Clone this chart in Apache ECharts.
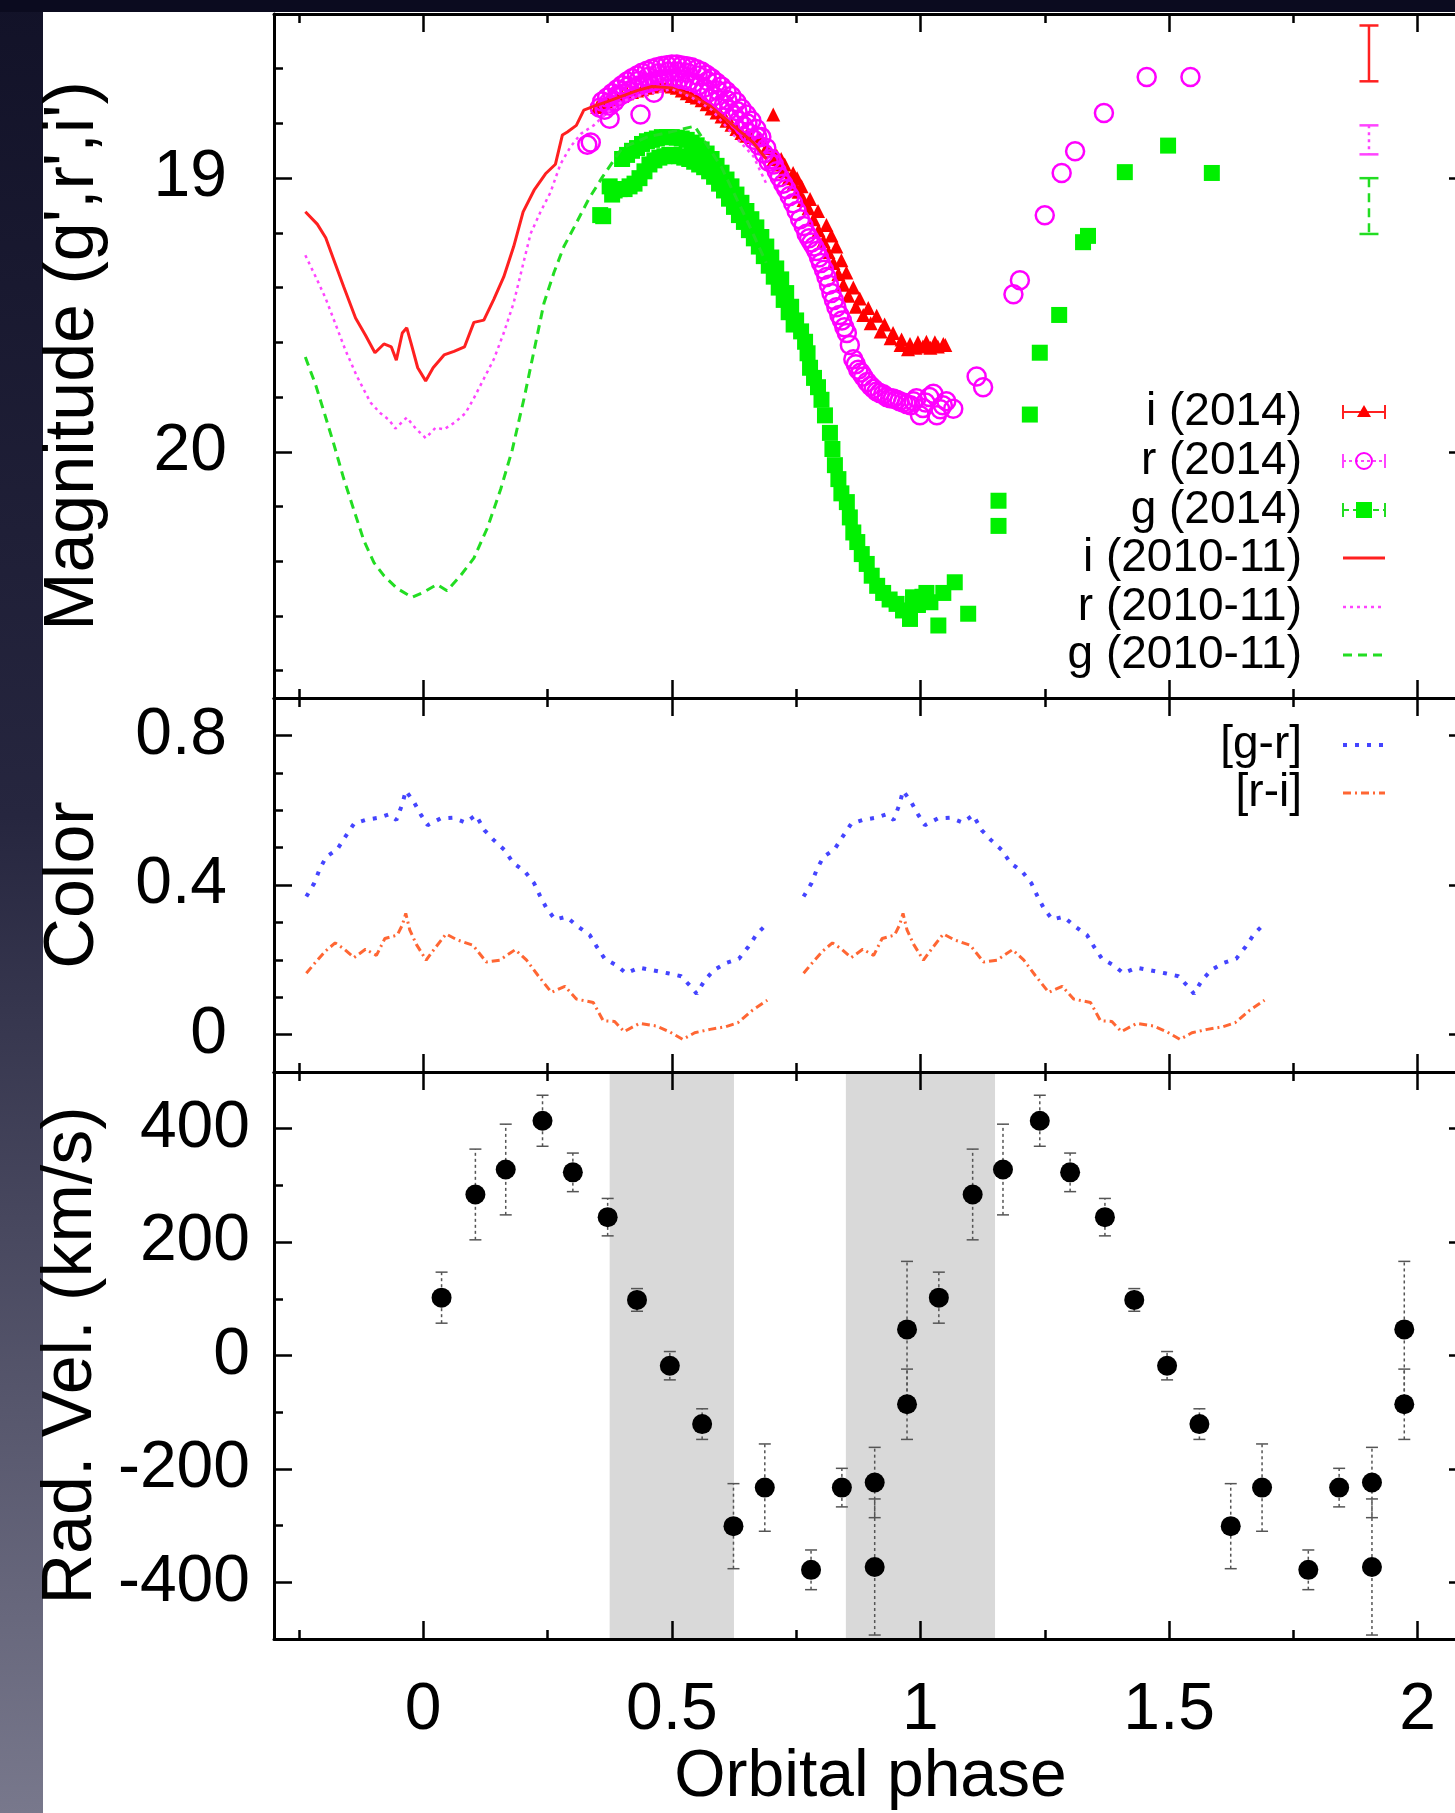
<!DOCTYPE html>
<html><head><meta charset="utf-8">
<script src="https://cdn.jsdelivr.net/npm/echarts@6/dist/echarts.min.js"></script>
<style>html,body{margin:0;padding:0;background:#fff}#c{width:1455px;height:1813px}</style>
</head><body><div id="c"></div><script>
// ---------------- tick values ----------------
const phaseMajorTicks = [0, 0.5, 1, 1.5, 2];
const phaseMinorTicks = [-0.25, 0.25, 0.75, 1.25, 1.75];
const magMajorTicks = [19, 20];
const magMinorTicks = [18.6, 18.8, 19.2, 19.4, 19.6, 19.8, 20.2, 20.4, 20.6, 20.8];
const colorMajorTicks = [0, 0.4, 0.8];
const colorMinorTicks = [0.1, 0.2, 0.3, 0.5, 0.6, 0.7];
const rvMajorTicks = [-400, -200, 0, 200, 400];
const rvMinorTicks = [-300, -100, 100, 300];

// ---------------- labels ----------------
const magLegendLabels = ['i (2014)', 'r (2014)', 'g (2014)', 'i (2010-11)', 'r (2010-11)', 'g (2010-11)'];
const colorLegendLabels = ['[g-r]', '[r-i]'];

// ---------------- magnitudes, 2014 [phase, mag] ----------------
const i2014 = [[0.35,18.74],[0.36,18.73],[0.37,18.72],[0.38,18.715],[0.39,18.71],[0.40,18.70],[0.41,18.69],[0.42,18.685],[0.43,18.68],[0.44,18.675],[0.45,18.67],[0.46,18.665],[0.47,18.66],[0.48,18.66],[0.49,18.66],[0.50,18.665],[0.51,18.67],[0.52,18.68],[0.53,18.69],[0.54,18.70],[0.55,18.705],[0.56,18.715],[0.57,18.73],[0.58,18.745],[0.59,18.76],[0.60,18.775],[0.61,18.79],[0.62,18.805],[0.63,18.82],[0.64,18.835],[0.65,18.845],[0.66,18.85],[0.677,18.854],[0.69,18.89],[0.704,18.767],[0.711,18.918],[0.72,18.93],[0.727,18.95],[0.744,18.981],[0.752,19.0],[0.761,19.03],[0.778,19.076],[0.794,19.12],[0.811,19.171],[0.821,19.21],[0.831,19.250],[0.841,19.30],[0.851,19.345],[0.865,19.40],[0.878,19.440],[0.895,19.475],[0.912,19.503],[0.928,19.535],[0.945,19.566],[0.962,19.59],[0.979,19.606],[0.995,19.60],[1.012,19.598],[1.029,19.60],[1.046,19.606],
  [0.705,18.93],[0.715,18.95],[0.725,18.975],[0.735,19.0],[0.745,19.02],[0.755,19.05],[0.765,19.08],[0.775,19.11],[0.785,19.15],[0.795,19.19],[0.805,19.23],[0.815,19.27],[0.825,19.31],[0.835,19.35],[0.845,19.39],[0.855,19.43],[0.87,19.47],[0.885,19.50],[0.90,19.53],[0.92,19.56],[0.94,19.585],[0.96,19.61],[0.975,19.625],[0.99,19.62],[1.005,19.615],[1.02,19.62],[1.035,19.615],[1.05,19.61]];
const r2014 = [[0.330,18.878],[0.337,18.870],[0.355,18.743],[0.375,18.783],[0.437,18.767],[0.464,18.688],
  [0.36,18.72],[0.37,18.705],[0.38,18.69],[0.39,18.675],[0.40,18.66],[0.41,18.647],[0.42,18.635],[0.43,18.625],[0.44,18.615],[0.45,18.607],[0.46,18.60],[0.47,18.595],[0.48,18.59],[0.49,18.587],[0.50,18.585],[0.51,18.585],[0.52,18.588],[0.53,18.591],[0.54,18.595],[0.55,18.602],[0.56,18.61],[0.57,18.622],[0.58,18.635],[0.59,18.65],[0.60,18.665],[0.61,18.682],[0.62,18.70],[0.63,18.722],[0.64,18.745],[0.65,18.767],[0.66,18.79],[0.67,18.82],[0.68,18.85],[0.69,18.89],[0.70,18.93],
  [0.365,18.75],[0.375,18.735],[0.385,18.72],[0.395,18.70],[0.405,18.69],[0.415,18.68],[0.425,18.67],[0.435,18.66],[0.445,18.655],[0.455,18.65],[0.465,18.645],[0.475,18.64],[0.485,18.638],[0.495,18.636],[0.505,18.636],[0.515,18.638],[0.525,18.64],[0.535,18.645],[0.545,18.65],[0.555,18.66],[0.565,18.67],[0.575,18.685],[0.585,18.70],[0.595,18.715],[0.605,18.73],[0.615,18.75],[0.625,18.77],[0.635,18.79],[0.645,18.81],[0.655,18.835],[0.665,18.86],[0.675,18.88],[0.685,18.91],[0.695,18.94],
  [0.372,18.725],[0.392,18.695],[0.412,18.665],[0.432,18.645],[0.452,18.63],[0.472,18.617],[0.492,18.61],[0.512,18.61],[0.532,18.615],[0.552,18.625],[0.572,18.645],[0.592,18.68],[0.612,18.715],[0.632,18.755],[0.652,18.80],[0.672,18.85],
  [0.705,18.95],[0.711,18.975],[0.717,18.997],[0.724,19.02],[0.73,19.04],[0.737,19.065],[0.744,19.092],[0.751,19.12],[0.758,19.15],[0.765,19.175],[0.771,19.203],[0.776,19.22],[0.781,19.235],[0.786,19.25],[0.791,19.266],[0.796,19.29],[0.80,19.31],[0.806,19.335],[0.811,19.361],[0.816,19.39],[0.821,19.42],[0.826,19.445],[0.831,19.472],[0.837,19.50],[0.842,19.52],[0.847,19.545],[0.852,19.566],[0.858,19.61],[0.865,19.662],[0.87,19.68],[0.875,19.70],[0.88,19.71],[0.885,19.725],[0.893,19.745],[0.90,19.76],[0.906,19.77],[0.912,19.780],[0.918,19.785],[0.925,19.79],[0.932,19.80],[0.939,19.804],[0.945,19.805],[0.952,19.81],[0.958,19.815],[0.965,19.820],[0.972,19.825],[0.98,19.83],[0.986,19.815],[0.992,19.804],[0.999,19.867],[1.005,19.84],[1.01,19.82],[1.018,19.80],[1.026,19.788],[1.033,19.867],[1.04,19.845],[1.045,19.83],[1.052,19.815],
  [1.066,19.843],[1.113,19.725],[1.126,19.764],[1.187,19.424],[1.200,19.373],[1.250,19.136],[1.284,18.981],[1.311,18.902],[1.369,18.762],[1.455,18.630],[1.543,18.630]];
const g2014 = [[0.356,19.135],[0.362,19.139],[0.38,19.06],
  [0.40,18.93],[0.41,18.915],[0.42,18.90],[0.43,18.89],[0.44,18.875],[0.45,18.865],[0.46,18.86],[0.47,18.855],[0.48,18.85],[0.49,18.85],[0.50,18.85],[0.51,18.852],[0.52,18.855],[0.53,18.86],[0.54,18.87],[0.55,18.88],[0.56,18.895],[0.57,18.91],[0.58,18.93],[0.59,18.955],[0.60,18.98],[0.61,19.005],[0.62,19.03],[0.63,19.06],[0.64,19.09],[0.65,19.12],[0.66,19.15],[0.67,19.18],[0.68,19.215],[0.69,19.25],[0.70,19.29],[0.71,19.33],[0.72,19.37],[0.73,19.42],[0.74,19.47],[0.75,19.52],[0.76,19.56],
  [0.375,19.03],[0.385,19.045],[0.395,19.04],[0.405,19.04],[0.415,19.03],[0.425,19.02],[0.435,19.0],[0.445,18.975],[0.455,18.95],[0.465,18.935],[0.475,18.925],[0.485,18.92],[0.495,18.915],[0.505,18.915],[0.515,18.92],[0.525,18.925],[0.535,18.93],[0.545,18.94],[0.555,18.95],[0.565,18.96],[0.575,18.975],[0.585,18.995],[0.595,19.02],[0.605,19.045],[0.615,19.075],[0.625,19.105],[0.635,19.135],[0.645,19.16],[0.655,19.19],[0.665,19.22],[0.675,19.25],[0.685,19.285],[0.695,19.32],[0.705,19.36],[0.715,19.40],[0.725,19.445],[0.735,19.49],[0.745,19.535],
  [0.768,19.598],[0.773,19.64],[0.778,19.693],[0.786,19.73],[0.794,19.764],[0.801,19.81],[0.808,19.867],[0.818,19.931],[0.823,19.99],[0.828,20.049],[0.835,20.10],[0.841,20.152],[0.852,20.184],[0.858,20.24],[0.865,20.295],[0.873,20.33],[0.882,20.374],[0.892,20.41],[0.902,20.453],[0.913,20.49],[0.925,20.516],[0.938,20.54],[0.952,20.556],[0.965,20.58],[0.979,20.611],[0.985,20.532],[0.995,20.56],[1.004,20.53],[1.012,20.516],[1.02,20.55],[1.036,20.635],[1.046,20.516],[1.069,20.477],[1.096,20.592],
  [1.157,20.179],[1.157,20.271],[1.220,19.864],[1.240,19.638],[1.279,19.500],[1.327,19.234],[1.337,19.211],[1.411,18.978],[1.498,18.881],[1.586,18.981]];

// ---------------- magnitudes, 2010-11 light curves [phase, mag] ----------------
const i2010 = [[-0.237,19.123],[-0.213,19.168],[-0.196,19.218],[-0.180,19.297],[-0.160,19.396],[-0.136,19.511],[-0.116,19.574],[-0.097,19.638],[-0.079,19.606],[-0.064,19.617],[-0.054,19.665],[-0.042,19.566],[-0.033,19.547],[-0.024,19.606],[-0.011,19.693],[0.005,19.741],[0.020,19.693],[0.042,19.646],[0.062,19.633],[0.083,19.617],[0.102,19.527],[0.122,19.519],[0.142,19.443],[0.162,19.361],[0.182,19.250],[0.201,19.123],[0.223,19.044],[0.246,18.984],[0.266,18.949],[0.280,18.842],[0.290,18.831],[0.308,18.807],[0.323,18.751],[0.345,18.736],[0.37,18.72],[0.40,18.70],[0.43,18.68],[0.46,18.665],[0.50,18.67],[0.54,18.70],[0.577,18.736],[0.623,18.807],[0.664,18.870],[0.69,18.93]];
const r2010 = [[-0.237,19.282],[-0.216,19.361],[-0.196,19.440],[-0.176,19.535],[-0.156,19.630],[-0.133,19.725],[-0.106,19.820],[-0.086,19.859],[-0.069,19.883],[-0.056,19.915],[-0.033,19.875],[-0.015,19.915],[0.005,19.950],[0.025,19.912],[0.042,19.918],[0.065,19.891],[0.085,19.859],[0.102,19.804],[0.122,19.733],[0.142,19.662],[0.162,19.566],[0.182,19.456],[0.199,19.329],[0.216,19.203],[0.236,19.123],[0.256,19.052],[0.276,18.949],[0.296,18.886],[0.317,18.838],[0.343,18.807],[0.37,18.76],[0.40,18.72],[0.43,18.70],[0.46,18.69],[0.50,18.675],[0.54,18.705],[0.58,18.75],[0.623,18.84],[0.664,18.92],[0.69,19.02]];
const g2010 = [[-0.237,19.654],[-0.216,19.757],[-0.200,19.851],[-0.180,19.970],[-0.160,20.097],[-0.139,20.215],[-0.119,20.326],[-0.099,20.405],[-0.079,20.453],[-0.052,20.500],[-0.022,20.532],[0.001,20.513],[0.028,20.485],[0.048,20.508],[0.075,20.453],[0.102,20.389],[0.129,20.279],[0.156,20.136],[0.179,19.994],[0.203,19.804],[0.223,19.630],[0.243,19.456],[0.263,19.345],[0.283,19.250],[0.306,19.171],[0.333,19.076],[0.360,18.997],[0.40,18.89],[0.45,18.85],[0.50,18.83],[0.546,18.81],[0.60,18.96],[0.65,19.15],[0.69,19.31]];

// typical error bars (top right of magnitude panel) [phase, mag, halfError]
const typicalErrors = [[1.902,18.544,0.102],[1.902,18.86,0.053],[1.902,19.102,0.102]];

// ---------------- colours (one orbital cycle, plotted twice) [phase, colour] ----------------
const grColor = [[-0.235,0.369],[-0.219,0.405],[-0.208,0.443],[-0.195,0.475],[-0.173,0.495],[-0.158,0.526],[-0.139,0.564],[-0.116,0.574],[-0.089,0.580],[-0.069,0.589],[-0.054,0.574],[-0.042,0.616],[-0.035,0.652],[-0.019,0.623],[-0.005,0.589],[0.009,0.560],[0.035,0.578],[0.060,0.580],[0.085,0.567],[0.106,0.587],[0.123,0.547],[0.142,0.520],[0.164,0.493],[0.181,0.459],[0.204,0.437],[0.223,0.405],[0.235,0.371],[0.248,0.338],[0.265,0.308],[0.288,0.315],[0.312,0.288],[0.335,0.266],[0.350,0.233],[0.365,0.203],[0.389,0.185],[0.408,0.164],[0.435,0.179],[0.462,0.172],[0.492,0.164],[0.519,0.156],[0.539,0.127],[0.550,0.109],[0.566,0.145],[0.585,0.173],[0.610,0.192],[0.635,0.203],[0.654,0.235],[0.671,0.269],[0.689,0.293]];
const riColor = [[-0.235,0.164],[-0.216,0.194],[-0.196,0.224],[-0.177,0.245],[-0.158,0.228],[-0.139,0.206],[-0.116,0.228],[-0.094,0.212],[-0.077,0.257],[-0.052,0.266],[-0.042,0.293],[-0.035,0.324],[-0.027,0.280],[-0.014,0.242],[0.006,0.199],[0.023,0.230],[0.046,0.269],[0.069,0.253],[0.100,0.239],[0.127,0.194],[0.154,0.199],[0.185,0.227],[0.208,0.199],[0.231,0.158],[0.258,0.113],[0.285,0.129],[0.308,0.095],[0.342,0.086],[0.362,0.037],[0.385,0.035],[0.404,0.008],[0.435,0.030],[0.469,0.023],[0.496,0.007],[0.522,-0.013],[0.546,0.005],[0.577,0.014],[0.608,0.021],[0.633,0.032],[0.662,0.065],[0.692,0.092]];

// ---------------- radial velocities (one cycle, plotted twice) ----------------
const rvPhase = [0.037,0.105,0.166,0.240,0.301,0.371,0.430,0.496,0.561,0.624,0.687,0.780,0.842,0.908,0.908,0.973,0.973];
const rvValue = [102,284,328,414,323,244,98,-18,-121,-301,-233,-378,-233,-224,-373,-86,46];
const rvError = [45,80,80,45,34,33,20,25,27,75,77,35,34,62,120,62,120];
const eclipseBands = [[0.375,0.625],[0.85,1.15]];

// ---------------- build ----------------
const FONT = '"Liberation Sans", Arial, Helvetica, sans-serif';
// the figure shows each phased point again one cycle later
const twoCycles = arr => arr.map(p => [p[0] + 1].concat(p.slice(1)));
const rvCycle1 = rvPhase.map((p, k) => [p, rvValue[k], rvError[k]]);
const rvAll = rvCycle1.concat(twoCycles(rvCycle1));

const PH_MIN = -0.3, PH_MAX = 2.075;
const L = 274, W = 1181;
const grids = [
  {left: L, top: 14, width: W, height: 684},
  {left: L, top: 698, width: W, height: 374},
  {left: L, top: 1072, width: W, height: 567}
];
const TICK = {color: '#000', width: 2.5};
const xAxes = [], yAxes = [];
function addX(g, labels, name) {
  const base = {type: 'value', gridIndex: g, min: PH_MIN, max: PH_MAX, splitLine: {show: false}, z: 5};
  ['bottom', 'top'].forEach(pos => {
    const major = Object.assign({}, base, {position: pos,
      axisLine: {show: true, onZero: false, lineStyle: {color: '#000', width: 3}},
      axisTick: {show: true, inside: true, length: 18, customValues: phaseMajorTicks, lineStyle: TICK},
      axisLabel: (labels && pos === 'bottom') ? {show: true, customValues: phaseMajorTicks, fontSize: 66, fontFamily: FONT, color: '#000', margin: 39} : {show: false}
    });
    if (name && pos === 'bottom') Object.assign(major, {name: name, nameLocation: 'middle', nameGap: 104, nameTextStyle: {fontSize: 66, fontFamily: FONT, color: '#000', padding: [0, 0, 0, 12]}});
    xAxes.push(major);
    xAxes.push(Object.assign({}, base, {position: pos,
      axisLine: {show: false, onZero: false},
      axisTick: {show: true, inside: true, length: 9, customValues: phaseMinorTicks, lineStyle: TICK},
      axisLabel: {show: false}}));
  });
}
function addY(g, min, max, inverse, majors, minors, margin, name) {
  const base = {type: 'value', gridIndex: g, min: min, max: max, inverse: inverse, splitLine: {show: false}, z: 5};
  yAxes.push(Object.assign({}, base, {position: 'left',
    axisLine: {show: true, onZero: false, lineStyle: {color: '#000', width: 3}},
    axisTick: {show: true, inside: true, length: 18, customValues: majors, lineStyle: TICK},
    axisLabel: {show: true, customValues: majors, fontSize: 66, fontFamily: FONT, color: '#000', margin: margin},
    name: name, nameLocation: 'middle', nameGap: 165, nameTextStyle: {fontSize: 70, fontFamily: FONT, color: '#000'}}));
  yAxes.push(Object.assign({}, base, {position: 'left',
    axisLine: {show: false, onZero: false},
    axisTick: {show: true, inside: true, length: 9, customValues: minors, lineStyle: TICK},
    axisLabel: {show: false}}));
  // right border lies just beyond the picture: only stubs of the major ticks show
  yAxes.push(Object.assign({}, base, {position: 'right',
    axisLine: {show: false, onZero: false},
    axisTick: {show: true, inside: true, length: 6, customValues: majors, lineStyle: TICK},
    axisLabel: {show: false}}));
}
addX(0, false); addX(1, false); addX(2, true, 'Orbital phase');
addY(0, 18.4, 20.9, true, magMajorTicks, magMinorTicks, 47, "Magnitude (g',r',i')");
addY(1, -0.1, 0.9, false, colorMajorTicks, colorMinorTicks, 47, 'Color');
addY(2, -500, 500, false, rvMajorTicks, rvMinorTicks, 24, 'Rad. Vel. (km/s)');
const XI = g => 4 * g, YI = g => 3 * g;

function errorBars(name, data, g, styleFn) {
  return {type: 'custom', name: name, xAxisIndex: XI(g), yAxisIndex: YI(g), data: data, z: 3,
    dimensions: ['x', 'y', 'e'], encode: {x: 0, y: 1},
    renderItem: function (params, api) {
      const x = api.value(0), y = api.value(1), e = api.value(2);
      const a = api.coord([x, y - e]), b = api.coord([x, y + e]);
      const st = styleFn(params.dataIndex), h = st.cap / 2;
      const cs = {stroke: st.color, lineWidth: st.width};
      return {type: 'group', children: [
        {type: 'line', shape: {x1: a[0], y1: a[1], x2: b[0], y2: b[1]}, style: {stroke: st.color, lineWidth: st.width, lineDash: st.dash}},
        {type: 'line', shape: {x1: a[0] - h, y1: a[1], x2: a[0] + h, y2: a[1]}, style: cs},
        {type: 'line', shape: {x1: b[0] - h, y1: b[1], x2: b[0] + h, y2: b[1]}, style: cs}
      ]};
    }};
}
const typicalStyles = [
  {color: '#ff2020', width: 2.5, dash: null, cap: 19},
  {color: '#ff44ff', width: 2.5, dash: [3, 4], cap: 19},
  {color: '#22dd22', width: 2.5, dash: [9, 6], cap: 19}
];
const line = (name, g, data, color, width, type, z) => ({type: 'line', name: name, xAxisIndex: XI(g), yAxisIndex: YI(g), data: data,
  showSymbol: false, symbol: 'none', lineStyle: {color: color, width: width, type: type || 'solid'}, z: z || 2});

const series = [
  {type: 'scatter', name: magLegendLabels[0], xAxisIndex: 0, yAxisIndex: 0, data: i2014, symbol: 'triangle', symbolSize: 14, itemStyle: {color: '#ff0000', opacity: 1}, z: 2},
  {type: 'scatter', name: magLegendLabels[1], xAxisIndex: 0, yAxisIndex: 0, data: r2014, symbol: 'circle', symbolSize: 18, itemStyle: {color: 'rgba(0,0,0,0)', borderColor: '#ff00ff', borderWidth: 2.5, opacity: 1}, z: 2},
  {type: 'scatter', name: magLegendLabels[2], xAxisIndex: 0, yAxisIndex: 0, data: g2014, symbol: 'rect', symbolSize: 16, itemStyle: {color: '#00f000', opacity: 1}, z: 2},
  line(magLegendLabels[3], 0, i2010, '#ff2020', 3, null, 3),
  line(magLegendLabels[4], 0, r2010, '#ff44ff', 2.5, [3, 4], 3),
  line(magLegendLabels[5], 0, g2010, '#22dd22', 3, [9, 6], 3),
  errorBars('typical errors', typicalErrors, 0, k => typicalStyles[k]),
  line(colorLegendLabels[0], 1, grColor, '#4444ff', 4, [4, 8]),
  line(colorLegendLabels[0] + ' ', 1, twoCycles(grColor), '#4444ff', 4, [4, 8]),
  line(colorLegendLabels[1], 1, riColor, '#ff6633', 3, [8, 4, 2, 4]),
  line(colorLegendLabels[1] + ' ', 1, twoCycles(riColor), '#ff6633', 3, [8, 4, 2, 4]),
  errorBars('RV errors', rvAll, 2, () => ({color: '#555', width: 1.5, dash: [3, 3], cap: 12})),
  {type: 'scatter', name: 'Radial velocity', xAxisIndex: XI(2), yAxisIndex: YI(2), data: rvAll.map(p => [p[0], p[1]]), symbol: 'circle', symbolSize: 20, itemStyle: {color: '#000', opacity: 1}, z: 4,
    markArea: {silent: true, itemStyle: {color: '#d9d9d9', opacity: 1}, data: eclipseBands.map(b => [{xAxis: b[0]}, {xAxis: b[1]}])}}
];

// legend (graphic elements: text right-aligned, key to its right)
const graphic = [
  {type: 'rect', shape: {x: 0, y: 0, width: 43, height: 1813}, z: -10,
    style: {fill: new echarts.graphic.LinearGradient(0, 0, 0, 1, [{offset: 0, color: '#121228'}, {offset: 0.45, color: '#26263f'}, {offset: 1, color: '#78788c'}])}},
  {type: 'rect', shape: {x: 0, y: 0, width: 1455, height: 12}, z: -10, style: {fill: '#0b0b1f'}}
];
const KX1 = 1343, KX2 = 1385, KXM = 1364, TX = 1302;
function legText(t, y) {
  graphic.push({type: 'text', x: TX, y: y, z: 20, style: {text: t, font: '46px ' + FONT, fill: '#000', align: 'right', textAlign: 'right', verticalAlign: 'middle', textVerticalAlign: 'middle'}});
}
function legLine(y, color, width, dash, caps) {
  graphic.push({type: 'line', z: 20, shape: {x1: KX1, y1: y, x2: KX2, y2: y}, style: {stroke: color, lineWidth: width, lineDash: dash}});
  if (caps) {
    graphic.push({type: 'line', z: 20, shape: {x1: KX1, y1: y - 7, x2: KX1, y2: y + 7}, style: {stroke: color, lineWidth: 2}});
    graphic.push({type: 'line', z: 20, shape: {x1: KX2, y1: y - 7, x2: KX2, y2: y + 7}, style: {stroke: color, lineWidth: 2}});
  }
}
const magRowsY = [412, 461, 510, 558, 607, 655];
magLegendLabels.forEach((t, k) => legText(t, magRowsY[k]));
legLine(magRowsY[0], '#ff2020', 2, null, true);
graphic.push({type: 'polygon', z: 21, shape: {points: [[KXM, magRowsY[0] - 7], [KXM - 7, magRowsY[0] + 5], [KXM + 7, magRowsY[0] + 5]]}, style: {fill: '#ff0000'}});
legLine(magRowsY[1], '#ff44ff', 2, [3, 3], true);
graphic.push({type: 'circle', z: 21, shape: {cx: KXM, cy: magRowsY[1], r: 8}, style: {fill: 'none', stroke: '#ff00ff', lineWidth: 2}});
legLine(magRowsY[2], '#22dd22', 2, [6, 4], true);
graphic.push({type: 'rect', z: 21, shape: {x: KXM - 8, y: magRowsY[2] - 8, width: 16, height: 16}, style: {fill: '#00f000'}});
legLine(magRowsY[3], '#ff2020', 3, null, false);
legLine(magRowsY[4], '#ff44ff', 2.5, [3, 4], false);
legLine(magRowsY[5], '#22dd22', 3, [9, 6], false);
const colorRowsY = [745, 793];
colorLegendLabels.forEach((t, k) => legText(t, colorRowsY[k]));
legLine(colorRowsY[0], '#4444ff', 4, [4, 8], false);
legLine(colorRowsY[1], '#ff6633', 3, [8, 4, 2, 4], false);

const chart = echarts.init(document.getElementById('c'), null, {renderer: 'canvas'});
chart.setOption({
  animation: false,
  backgroundColor: '#fff',
  grid: grids,
  xAxis: xAxes,
  yAxis: yAxes,
  series: series,
  graphic: graphic
});
</script></body></html>
